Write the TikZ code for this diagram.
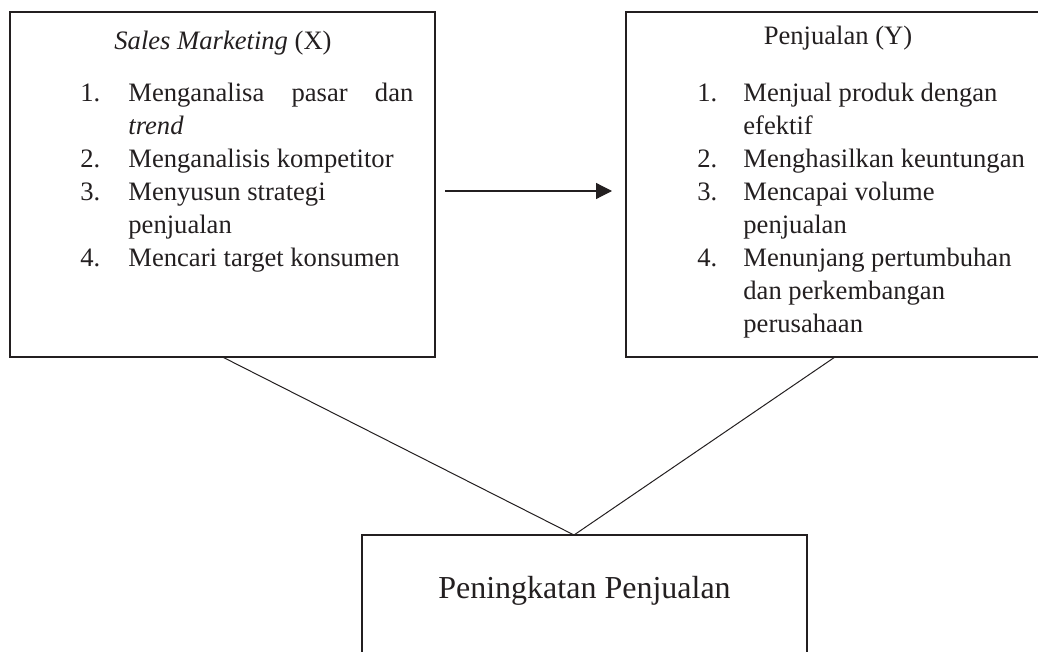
\documentclass[tikz,border=0pt]{standalone}
\usepackage{fontspec}
\setmainfont{Liberation Serif}
\usepackage{xcolor}
\usepackage{tikz}
\usetikzlibrary{arrows.meta}
\usetikzlibrary{positioning}
\definecolor{ink}{HTML}{231F20}
\tikzset{
var box/.style = { rectangle, draw = ink, line width = 1pt, minimum width = #1, minimum height = 172.5pt, inner sep = 0pt, outer sep = 0pt },
goal box/.style = { rectangle, draw = ink, line width = 1pt, minimum width = 222.5pt, minimum height = 70pt, inner sep = 0pt, outer sep = 0pt },
box text/.style = { ink, inner sep = 0pt, font = \fontsize{13.3}{16.5}\selectfont },
link/.style = { draw = ink, line width = 0.5pt },
flow/.style = { draw = ink, line width = 0.6pt, -{Triangle[length = 8pt, width = 8pt]} },
}

\begin{document}
\begin{tikzpicture}[x = 0.5pt, y = -0.5pt]
      \useasboundingbox (0, 0) rectangle (1038, 652);
      \clip (0, 0) rectangle (1038, 652);
      % boxes
      \node[var box = 212.5pt] (sm) at (222.5, 184.5) {};
      \node[var box = 209pt] (pj) at (835, 184.5) {};
      \node[goal box] (goal) at (584.5, 605) {};
      % left box text
      \node[box text, anchor = base] (sm head) at (223, 50) {\textit{Sales Marketing} (X)};
      \node[box text, anchor = base west] (sm list) at (80, 102) {%
        \begin{tabular}[t]{@{}p{24pt}@{}l@{}}
        1. & \makebox[142.5pt][s]{Menganalisa pasar dan} \\
           & \textit{trend} \\
        2. & Menganalisis kompetitor \\
        3. & Menyusun strategi \\
           & penjualan \\
        4. & Mencari target konsumen
        \end{tabular}};
      % right box text
      \node[box text, anchor = base] (pj head) at (838, 45) {Penjualan (Y)};
      \node[box text, anchor = base west] (pj list) at (697, 102) {%
        \begin{tabular}[t]{@{}p{23pt}@{}l@{}}
        1. & Menjual produk dengan \\
           & efektif \\
        2. & Menghasilkan keuntungan \\
        3. & Mencapai volume \\
           & penjualan \\
        4. & Menunjang pertumbuhan \\
           & dan perkembangan \\
           & perusahaan
        \end{tabular}};
      % bottom box text
      \node[ink, inner sep = 0pt, font = \fontsize{16}{19}\selectfont, anchor = base] (goal text) at (584.5, 598) {Peningkatan Penjualan};
      % connectors
      \coordinate (meet) at ([xshift = -5.25pt]goal.north);
      \draw[flow, shorten < = 5pt, shorten > = 7pt] ([yshift = -3.25pt]sm.east) -- ([yshift = -3.25pt]sm.east -| pj.west);
      \draw[link] (sm.south) -- (meet);
      \draw[link] (pj.south) -- (meet);
    \end{tikzpicture}
\end{document}
